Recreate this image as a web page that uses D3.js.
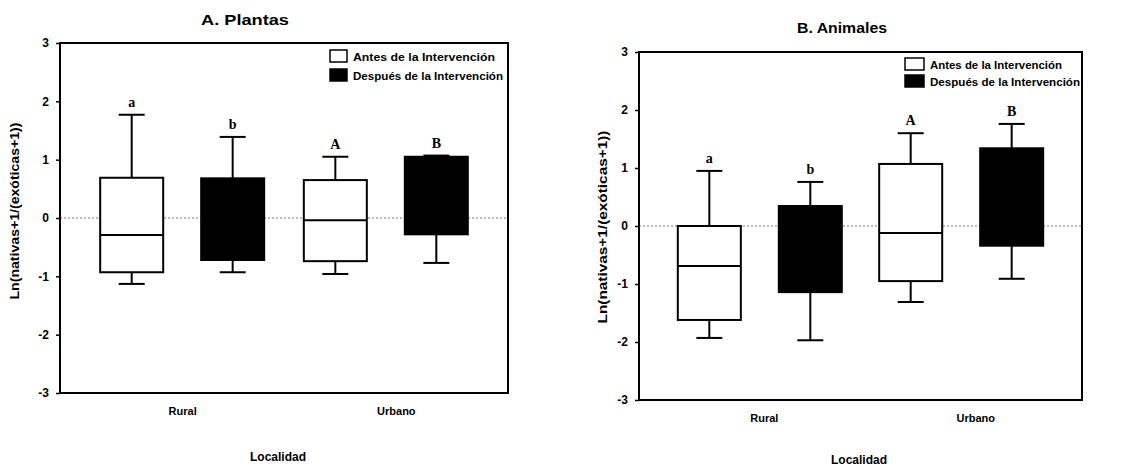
<!DOCTYPE html>
<meta charset="utf-8">
<style>
body { margin: 0; background: #fff; }
svg { font-family: "Liberation Sans", Arial, sans-serif; font-weight: bold; }
.box { stroke: #000; stroke-width: 2px; }
.whisker { stroke: #000; stroke-width: 2px; }
.frame { fill: none; stroke: #000; stroke-width: 2px; }
.zero { stroke: #777; stroke-width: 1px; stroke-dasharray: 2,2; }
.axis path { display: none; }
.axis line { stroke: #000; stroke-width: 1.5px; }
.axis text { font-size: 12px; fill: #000; }
.letter { font-family: "Liberation Serif", "Times New Roman", serif; font-size: 14px; }
</style>
<body>
<script src="https://d3js.org/d3.v7.min.js"></script>
<script>

// categories and tick labels
var localidades = ["Rural", "Urbano"];
var tratamientos = ["Antes de la Intervención", "Después de la Intervención"];
var yTicks = [-3, -2, -1, 0, 1, 2, 3];

// box order: Rural-Antes, Rural-Después, Urbano-Antes, Urbano-Después
var plantasMin    = [-1.13, -0.93, -0.96, -0.77];
var plantasQ1     = [-0.93, -0.72, -0.74, -0.28];
var plantasMedian = [-0.29, -0.10, -0.04, 0.40];
var plantasQ3     = [0.69, 0.68, 0.65, 1.05];
var plantasMax    = [1.77, 1.39, 1.05, 1.07];
var plantasLetras = ["a", "b", "A", "B"];

var animalesMin    = [-1.93, -1.97, -1.31, -0.91];
var animalesQ1     = [-1.62, -1.14, -0.95, -0.34];
var animalesMedian = [-0.69, -0.40, -0.12, 0.50];
var animalesQ3     = [0.00, 0.345, 1.07, 1.34];
var animalesMax    = [0.95, 0.76, 1.60, 1.76];
var animalesLetras = ["a", "b", "A", "B"];

var fills = ["#fff", "#000"];

var svg = d3.select("body").append("svg")
    .attr("width", 1126)
    .attr("height", 470);

function drawPanel(cfg) {
  var g = svg.append("g");

  var y = d3.scaleLinear().domain([-3, 3]).range([cfg.bottom, cfg.top]);
  var x = d3.scalePoint().domain(localidades).range([cfg.left, cfg.right]).padding(0.6);
  var xs = d3.scaleBand().domain(tratamientos).range([-82, 82]).paddingInner(0.376);

  var boxes = [];
  localidades.forEach(function(loc, i) {
    tratamientos.forEach(function(tr, j) {
      var k = i * 2 + j;
      boxes.push({loc: loc, tr: tr, j: j,
        min: cfg.min[k], q1: cfg.q1[k], med: cfg.median[k],
        q3: cfg.q3[k], max: cfg.max[k], letra: cfg.letras[k]});
    });
  });

  // zero reference line
  g.append("line").attr("class", "zero")
      .attr("x1", cfg.left).attr("x2", cfg.right)
      .attr("y1", y(0)).attr("y2", y(0));

  var bx = g.selectAll(".bp").data(boxes).enter().append("g")
      .attr("class", "bp")
      .attr("transform", function(d) { return "translate(" + (x(d.loc) + xs(d.tr)) + ",0)"; });

  var bw = xs.bandwidth();

  // whiskers
  bx.append("line").attr("class", "whisker")
      .attr("x1", bw / 2).attr("x2", bw / 2)
      .attr("y1", function(d) { return y(d.q3); })
      .attr("y2", function(d) { return y(d.max); });
  bx.append("line").attr("class", "whisker")
      .attr("x1", bw / 2).attr("x2", bw / 2)
      .attr("y1", function(d) { return y(d.q1); })
      .attr("y2", function(d) { return y(d.min); });
  bx.append("line").attr("class", "whisker")
      .attr("x1", bw / 2 - 13).attr("x2", bw / 2 + 13)
      .attr("y1", function(d) { return y(d.max); })
      .attr("y2", function(d) { return y(d.max); });
  bx.append("line").attr("class", "whisker")
      .attr("x1", bw / 2 - 13).attr("x2", bw / 2 + 13)
      .attr("y1", function(d) { return y(d.min); })
      .attr("y2", function(d) { return y(d.min); });

  bx.append("rect").attr("class", "box")
      .attr("width", bw)
      .attr("y", function(d) { return y(d.q3); })
      .attr("height", function(d) { return y(d.q1) - y(d.q3); })
      .style("fill", function(d) { return fills[d.j]; });

  bx.append("line")
      .attr("x1", 0).attr("x2", bw)
      .attr("y1", function(d) { return y(d.med); })
      .attr("y2", function(d) { return y(d.med); })
      .style("stroke", "#000").style("stroke-width", 2);

  bx.append("text").attr("class", "letter")
      .attr("x", bw / 2)
      .attr("y", function(d) { return y(d.max) - 8; })
      .attr("text-anchor", "middle")
      .text(function(d) { return d.letra; });

  // frame
  g.append("rect").attr("class", "frame")
      .attr("x", cfg.left).attr("y", cfg.top)
      .attr("width", cfg.right - cfg.left)
      .attr("height", cfg.bottom - cfg.top);

  // y axis
  g.append("g").attr("class", "axis")
      .attr("transform", "translate(" + cfg.left + ",0)")
      .call(d3.axisLeft(y).tickValues(yTicks).tickFormat(function(d) { return String(d); }).tickSize(4).tickPadding(7));

  // x axis labels
  var xa = g.append("g").attr("class", "axis")
      .attr("transform", "translate(0," + cfg.bottom + ")")
      .call(d3.axisBottom(x).tickSize(0).tickPadding(14));
  xa.selectAll("text")
      .style("font-size", "11px")
      .attr("dx", function(d, i) { return cfg.catDx[i]; });

  // titles
  g.append("text")
      .attr("x", cfg.titleX).attr("y", cfg.titleY)
      .attr("text-anchor", "middle")
      .attr("textLength", cfg.titleLen)
      .attr("lengthAdjust", "spacingAndGlyphs")
      .style("font-size", "15px")
      .text(cfg.title);

  g.append("text")
      .attr("x", cfg.xLabelX).attr("y", cfg.xLabelY)
      .attr("text-anchor", "middle")
      .style("font-size", "12px")
      .text("Localidad");

  g.append("text")
      .attr("transform", "translate(" + cfg.yLabelX + "," + cfg.yLabelY + ") rotate(-90)")
      .attr("text-anchor", "middle")
      .attr("textLength", cfg.yLabelLen)
      .attr("lengthAdjust", "spacingAndGlyphs")
      .style("font-size", "12px")
      .text("Ln(nativas+1/(exóticas+1))");

  // legend
  var lg = g.selectAll(".lg").data(tratamientos).enter().append("g")
      .attr("transform", function(d, i) {
        return "translate(" + cfg.legX + "," + (cfg.legY + i * cfg.legStep) + ")";
      });
  lg.append("rect")
      .attr("width", cfg.swW).attr("height", cfg.swH)
      .style("fill", function(d, i) { return fills[i]; })
      .style("stroke", "#000").style("stroke-width", 1.5);
  lg.append("text")
      .attr("x", cfg.swW + 6).attr("y", cfg.swH - 1)
      .attr("textLength", function(d, i) { return cfg.legLen[i]; })
      .attr("lengthAdjust", "spacingAndGlyphs")
      .style("font-size", "11px")
      .text(function(d) { return d; });
}

drawPanel({
  title: "A. Plantas", titleX: 245, titleY: 25, titleLen: 88,
  left: 60, right: 508, top: 43, bottom: 393,
  min: plantasMin, q1: plantasQ1, median: plantasMedian, q3: plantasQ3, max: plantasMax, letras: plantasLetras,
  catDx: [0, 10],
  xLabelX: 278, xLabelY: 461,
  yLabelX: 19, yLabelY: 211, yLabelLen: 177,
  legX: 330, legY: 50, legStep: 19, swW: 17, swH: 12, legLen: [142, 150]
});

drawPanel({
  title: "B. Animales", titleX: 842, titleY: 33, titleLen: 90,
  left: 639, right: 1082, top: 52, bottom: 400,
  min: animalesMin, q1: animalesQ1, median: animalesMedian, q3: animalesQ3, max: animalesMax, letras: animalesLetras,
  catDx: [4, 14],
  xLabelX: 859, xLabelY: 464,
  yLabelX: 607, yLabelY: 227, yLabelLen: 193,
  legX: 905, legY: 58, legStep: 17, swW: 19, swH: 12, legLen: [132, 150]
});

</script>
</body>
